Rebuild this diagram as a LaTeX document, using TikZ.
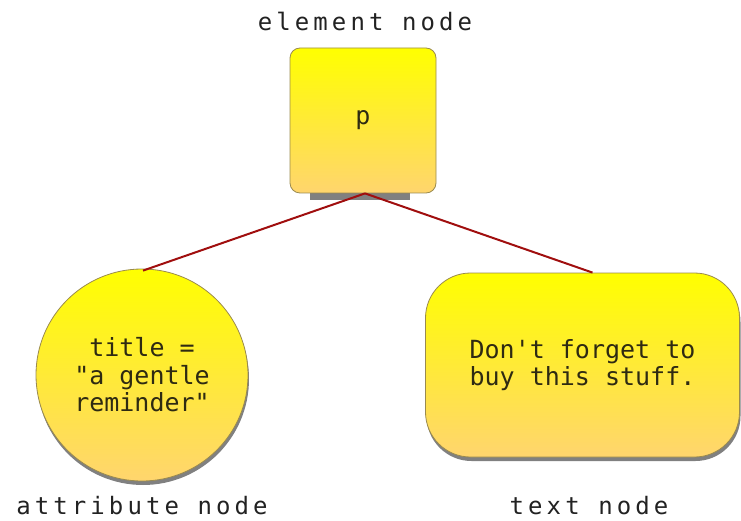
\documentclass[tikz,border=0pt]{standalone}
\usepackage{fontspec}
\usetikzlibrary{shadows}
\newfontfamily\monofont{DejaVu Sans Mono}
\newfontfamily\spacedmono[LetterSpace=17]{DejaVu Sans Mono}
\definecolor{nodetop}{HTML}{FFFF00}
\definecolor{nodebottom}{HTML}{FFD56E}
\definecolor{nodeedge}{HTML}{9A8A4E}
\definecolor{linkred}{HTML}{A00E0E}
\definecolor{shadowgray}{HTML}{808080}
\definecolor{inktext}{HTML}{2E2A12}
\definecolor{labelink}{HTML}{222222}
\tikzset{
  domnode/.style={draw=nodeedge, line width=0.8pt, top color=nodetop,
    bottom color=nodebottom, inner sep=0pt, text=inktext, align=center,
    font=\monofont\fontsize{25}{27.5}\selectfont},
  castshadow/.style={drop shadow={shadow xshift=1pt, shadow yshift=-4pt,
    fill=shadowgray, opacity=1}},
  caption/.style={anchor=base, text=labelink,
    font=\spacedmono\fontsize{24}{26}\selectfont, inner sep=0pt},
  link/.style={draw=linkred, line width=2pt}
}
\begin{document}
\begin{tikzpicture}[x=1pt, y=-1pt]
  \useasboundingbox (0,0) rectangle (741,521);
  % flat shadow under the element box
  \fill[shadowgray] (310,190) rectangle (410,200);
  % element node
  \node[domnode, rectangle, rounded corners=10pt, minimum width=146pt,
        minimum height=145pt] (elem) at (363,120.5) {p};
  % attribute node
  \node[domnode, castshadow, circle, minimum size=212pt] (attr) at (142,375)
        {title =\\"a gentle\\reminder"};
  % text node
  \node[domnode, castshadow, rectangle, rounded corners=45pt,
        minimum width=314pt, minimum height=184pt] (textn) at (582.5,365)
        {Don't forget to\\buy this stuff.};
  % parent-child links
  \draw[link] ([xshift=2pt]elem.south) -- ([xshift=1pt,yshift=-2pt]attr.north);
  \draw[link] ([xshift=2pt]elem.south) -- ([xshift=10pt]textn.north);
  % captions
  \node[caption] (capelem) at (365,31) {element node};
  \node[caption] (capattr) at (142,514) {attribute node};
  \node[caption] (captext) at (589,514) {text node};
\end{tikzpicture}
\end{document}
